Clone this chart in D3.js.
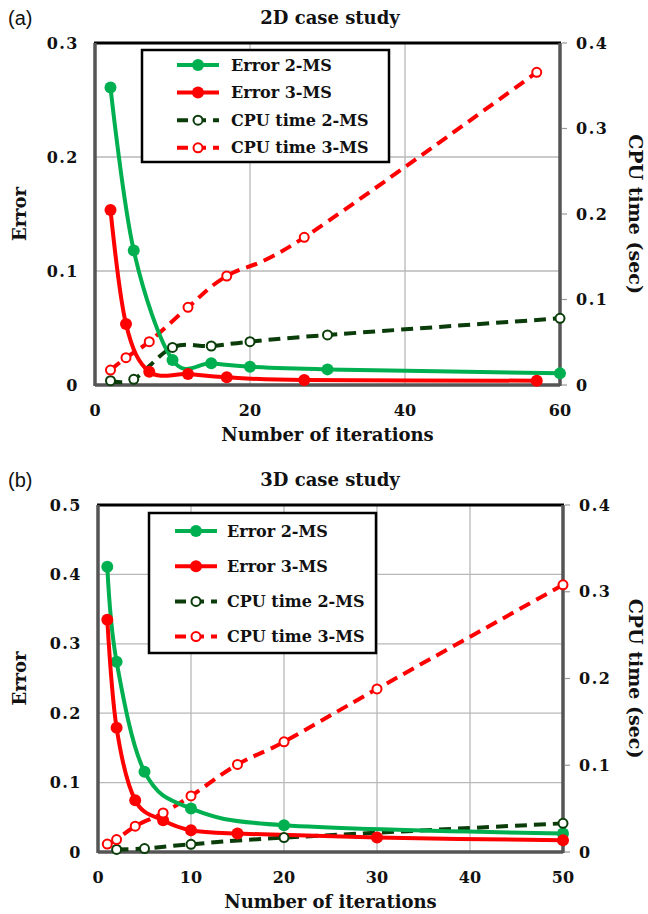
<!DOCTYPE html>
<html>
<head>
<meta charset="utf-8">
<script src="https://cdn.jsdelivr.net/npm/d3@7"></script>
<style>
  body { margin: 0; background: #fff; }
  text { font-family: "DejaVu Serif", serif; font-weight: bold; fill: #111; }
</style>
</head>
<body>
<div id="wrapper"></div>
<script>
// ---- data: (a) 2D case study ----
const err2ms_2D_x = [2, 5, 10, 15, 20, 30, 60];
const err2ms_2D_y = [0.261, 0.118, 0.022, 0.019, 0.016, 0.0137, 0.0102];
const err3ms_2D_x = [2, 4, 7, 12, 17, 27, 57];
const err3ms_2D_y = [0.1535, 0.0535, 0.0117, 0.0096, 0.0067, 0.0044, 0.0038];
const cpu2ms_2D_x = [2, 5, 10, 15, 20, 30, 60];
const cpu2ms_2D_y = [0.005, 0.0067, 0.044, 0.0456, 0.0507, 0.0585, 0.078];
const cpu3ms_2D_x = [2, 4, 7, 12, 17, 27, 57];
const cpu3ms_2D_y = [0.0175, 0.032, 0.0507, 0.0908, 0.1275, 0.1727, 0.3657];

// ---- data: (b) 3D case study ----
const err2ms_3D_x = [1, 2, 5, 10, 20, 50];
const err2ms_3D_y = [0.411, 0.274, 0.1157, 0.0626, 0.0385, 0.0265];
const err3ms_3D_x = [1, 2, 4, 7, 10, 15, 30, 50];
const err3ms_3D_y = [0.3346, 0.179, 0.0746, 0.0457, 0.0313, 0.0265, 0.0208, 0.0169];
const cpu2ms_3D_x = [2, 5, 10, 20, 50];
const cpu2ms_3D_y = [0.003, 0.004, 0.0089, 0.0166, 0.033];
const cpu3ms_3D_x = [1, 2, 4, 7, 10, 15, 20, 30, 50];
const cpu3ms_3D_y = [0.0092, 0.0143, 0.0297, 0.045, 0.0646, 0.101, 0.127, 0.188, 0.308];

const seriesNames = ["Error 2-MS", "Error 3-MS", "CPU time 2-MS", "CPU time 3-MS"];
const seriesColors = ["#00b050", "#ff0000", "#0b3d0b", "#ff0000"];

const zip = (xs, ys) => xs.map((x, i) => ({x: x, y: ys[i]}));

const svg = d3.select("#wrapper").append("svg")
  .attr("width", 648).attr("height", 914);

function drawPanel(p) {
  const g = svg.append("g");
  const x = d3.scaleLinear().domain([0, p.xMax]).range([p.left, p.right]);
  const y = d3.scaleLinear().domain([0, p.yMax]).range([p.bottom, p.top]);
  const y2 = d3.scaleLinear().domain([0, 0.4]).range([p.bottom, p.top]);

  // grid
  const xt = d3.range(0, p.xMax + 0.001, p.xStep);
  const yt = d3.range(0, p.yMax + 0.001, 0.1);
  g.selectAll(".vg").data(xt.slice(1, -1)).enter().append("line")
    .attr("x1", d => x(d)).attr("x2", d => x(d))
    .attr("y1", p.top).attr("y2", p.bottom)
    .attr("stroke", "#b8b8b8").attr("stroke-width", 1.3);
  g.selectAll(".hg").data(yt.slice(1, -1)).enter().append("line")
    .attr("y1", d => y(d)).attr("y2", d => y(d))
    .attr("x1", p.left).attr("x2", p.right)
    .attr("stroke", "#b8b8b8").attr("stroke-width", 1.3);

  // frame
  g.append("line").attr("x1", p.left - 1).attr("x2", p.right + 1).attr("y1", p.top).attr("y2", p.top)
    .attr("stroke", "#000").attr("stroke-width", 3);
  g.append("line").attr("x1", p.left).attr("x2", p.left).attr("y1", p.top).attr("y2", p.bottom + 1)
    .attr("stroke", "#555").attr("stroke-width", 3.5);
  g.append("line").attr("x1", p.right).attr("x2", p.right).attr("y1", p.top).attr("y2", p.bottom + 1)
    .attr("stroke", "#555").attr("stroke-width", 3.5);
  g.append("line").attr("x1", p.left).attr("x2", p.right).attr("y1", p.bottom).attr("y2", p.bottom)
    .attr("stroke", "#555").attr("stroke-width", 3.5);

  // right axis ticks
  const y2t = d3.range(0, 0.4001, 0.1);
  g.selectAll(".rt").data(y2t).enter().append("line")
    .attr("x1", p.right + 2).attr("x2", p.right + 7)
    .attr("y1", d => y2(d)).attr("y2", d => y2(d))
    .attr("stroke", "#999").attr("stroke-width", 1.2);

  // tick labels
  const fmt = d => d === 0 ? "0" : d3.format(".1f")(d);
  g.selectAll(".yl").data(yt).enter().append("text")
    .attr("x", p.left - 16).attr("y", d => y(d)).attr("dy", "0.35em")
    .attr("text-anchor", "end").attr("font-size", 16).attr("letter-spacing", 1.5)
    .text(fmt);
  g.selectAll(".y2l").data(y2t).enter().append("text")
    .attr("x", p.right + 16).attr("y", d => y2(d)).attr("dy", "0.35em")
    .attr("font-size", 16).attr("letter-spacing", 1.5)
    .text(fmt);
  g.selectAll(".xl").data(xt).enter().append("text")
    .attr("x", d => x(d)).attr("y", p.bottom + 25).attr("dy", "0.35em")
    .attr("text-anchor", "middle").attr("font-size", 16)
    .text(d => d);

  // titles
  g.append("text").attr("x", 330).attr("y", p.top - 19).attr("text-anchor", "middle")
    .attr("font-size", 18).text(p.title);
  g.append("text").attr("x", 8).attr("y", p.top - 18)
    .style("font-family", "Liberation Sans, Arial, sans-serif").style("font-weight", "normal")
    .attr("font-size", 20).text(p.tag);
  g.append("text").attr("x", (p.left + p.right) / 2).attr("y", p.bottom + 50).attr("dy", "0.35em")
    .attr("text-anchor", "middle").attr("font-size", 18).text("Number of iterations");
  const midY = (p.top + p.bottom) / 2;
  g.append("text").attr("transform", `translate(20,${midY}) rotate(-90)`).attr("dy", "0.35em")
    .attr("text-anchor", "middle").attr("font-size", 18).text("Error");
  g.append("text").attr("transform", `translate(636,${midY}) rotate(90)`).attr("dy", "0.35em")
    .attr("text-anchor", "middle").attr("font-size", 19).text("CPU time (sec)");

  // series
  const curve = d3.curveCardinal.tension(0);
  const lineL = d3.line().x(d => x(d.x)).y(d => y(d.y)).curve(curve);
  const lineR = d3.line().x(d => x(d.x)).y(d => y2(d.y)).curve(curve);

  // CPU lines first, errors on top
  [[p.cpu2, 2], [p.cpu3, 3]].forEach(([data, i]) => {
    g.append("path").attr("d", lineR(data)).attr("fill", "none")
      .attr("stroke", seriesColors[i]).attr("stroke-width", 4)
      .attr("stroke-dasharray", "12,7");
  });
  [[p.err2, 0], [p.err3, 1]].forEach(([data, i]) => {
    g.append("path").attr("d", lineL(data)).attr("fill", "none")
      .attr("stroke", seriesColors[i]).attr("stroke-width", 4);
    g.selectAll(null).data(data).enter().append("circle")
      .attr("cx", d => x(d.x)).attr("cy", d => y(d.y)).attr("r", 6)
      .attr("fill", seriesColors[i]);
  });
  [[p.cpu2, 2], [p.cpu3, 3]].forEach(([data, i]) => {
    g.selectAll(null).data(data).enter().append("circle")
      .attr("cx", d => x(d.x)).attr("cy", d => y2(d.y)).attr("r", 4.5)
      .attr("fill", "#fff").attr("stroke", seriesColors[i]).attr("stroke-width", 2);
  });

  // legend
  const L = p.legend;
  g.append("rect").attr("x", L.x).attr("y", L.y).attr("width", L.w).attr("height", L.h)
    .attr("fill", "#fff").attr("stroke", "#000").attr("stroke-width", 2.5);
  seriesNames.forEach((name, i) => {
    const cy = L.y + L.first + i * L.gap;
    const lx = L.x + L.lineX, rx = lx + 42, mx = (lx + rx) / 2;
    if (i < 2) {
      g.append("line").attr("x1", lx).attr("x2", rx).attr("y1", cy).attr("y2", cy)
        .attr("stroke", seriesColors[i]).attr("stroke-width", 4);
      g.append("circle").attr("cx", mx).attr("cy", cy).attr("r", 6).attr("fill", seriesColors[i]);
    } else {
      g.append("line").attr("x1", lx).attr("x2", rx).attr("y1", cy).attr("y2", cy)
        .attr("stroke", seriesColors[i]).attr("stroke-width", 4).attr("stroke-dasharray", "11,7");
      g.append("circle").attr("cx", mx).attr("cy", cy).attr("r", 4.5)
        .attr("fill", "#fff").attr("stroke", seriesColors[i]).attr("stroke-width", 2);
    }
    g.append("text").attr("x", L.x + L.textX).attr("y", cy).attr("dy", "0.35em")
      .attr("font-size", 16).text(name);
  });
}

drawPanel({
  tag: "(a)", title: "2D case study",
  left: 95, right: 560, top: 43, bottom: 385,
  xMax: 60, xStep: 20, yMax: 0.3,
  err2: zip(err2ms_2D_x, err2ms_2D_y), err3: zip(err3ms_2D_x, err3ms_2D_y),
  cpu2: zip(cpu2ms_2D_x, cpu2ms_2D_y), cpu3: zip(cpu3ms_2D_x, cpu3ms_2D_y),
  legend: {x: 142, y: 50, w: 247, h: 112, first: 15, gap: 27.6, lineX: 35, textX: 89}
});

drawPanel({
  tag: "(b)", title: "3D case study",
  left: 98, right: 563, top: 505, bottom: 852,
  xMax: 50, xStep: 10, yMax: 0.5,
  err2: zip(err2ms_3D_x, err2ms_3D_y), err3: zip(err3ms_3D_x, err3ms_3D_y),
  cpu2: zip(cpu2ms_3D_x, cpu2ms_3D_y), cpu3: zip(cpu3ms_3D_x, cpu3ms_3D_y),
  legend: {x: 149, y: 513, w: 227, h: 140, first: 18, gap: 35.2, lineX: 26, textX: 78}
});
</script>
</body>
</html>
